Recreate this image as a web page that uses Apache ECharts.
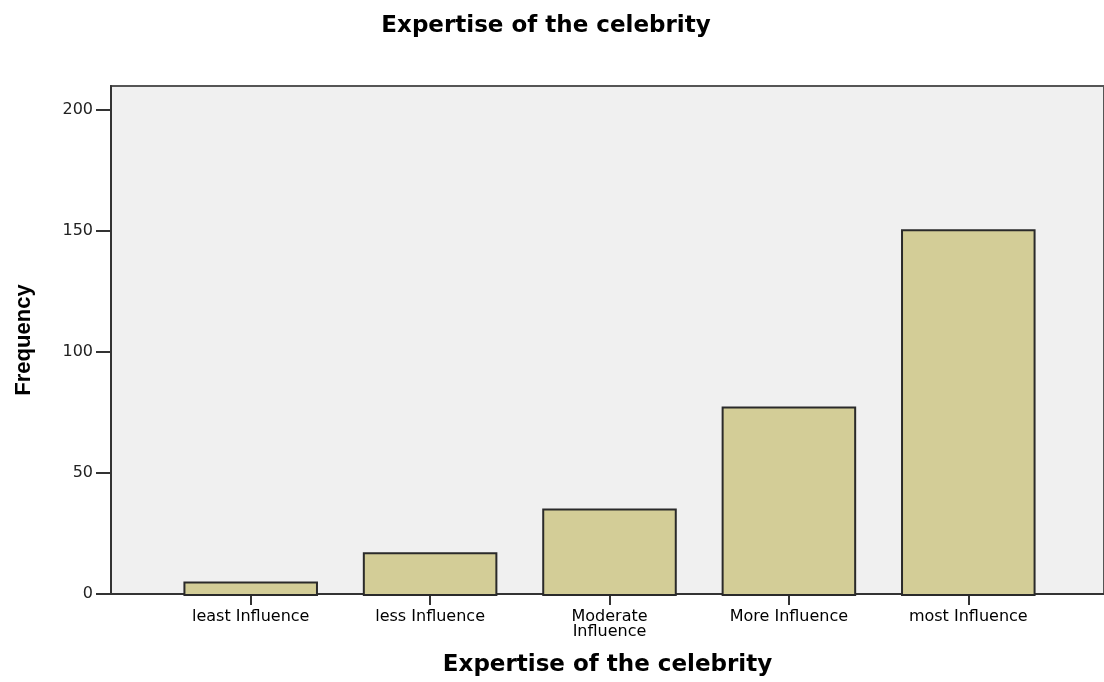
<!DOCTYPE html>
<html>
<head>
<meta charset="utf-8">
<script src="https://cdn.jsdelivr.net/npm/echarts@6/dist/echarts.min.js"></script>
<style>
html,body{margin:0;padding:0;background:#fff;}
#chart{width:1104px;height:682px;}
</style>
</head>
<body>
<div id="chart"></div>
<script>
const chartTitle = "Expertise of the celebrity";
const xAxisTitle = "Expertise of the celebrity";
const yAxisTitle = "Frequency";
const categories = ["least Influence", "less Influence", "Moderate\nInfluence", "More Influence", "most Influence"];
const frequencies = [6, 18, 36, 78, 151];
const yTicks = [0, 50, 100, 150, 200];

const chart = echarts.init(document.getElementById('chart'), null, {renderer: 'canvas'});
const labelFont = 'DejaVu Sans';
const yMax = 210;

chart.setOption({
  backgroundColor: '#ffffff',
  animation: false,
  title: {
    text: chartTitle,
    left: 541,
    top: 10,
    textAlign: 'center',
    textStyle: {fontFamily: labelFont, fontWeight: 'bold', fontSize: 23, color: '#000'}
  },
  grid: [
    {left: 111, top: 86, right: -4, bottom: 86, show: true, backgroundColor: '#f0f0f0', borderColor: '#555', borderWidth: 2, containLabel: false},
    {left: 161, top: 86, right: 46, bottom: 86, show: false, containLabel: false}
  ],
  xAxis: [
    {
      gridIndex: 0, type: 'value', min: 0, max: 1,
      axisLine: {show: true, onZero: false, lineStyle: {color: '#333', width: 2}},
      axisTick: {show: false}, axisLabel: {show: false}, splitLine: {show: false},
      name: xAxisTitle, nameLocation: 'middle', nameGap: 60,
      nameTextStyle: {fontFamily: labelFont, fontWeight: 'bold', fontSize: 23, color: '#000'}
    },
    {
      gridIndex: 1, type: 'category', data: categories, boundaryGap: true,
      axisLine: {show: false},
      axisTick: {show: true, alignWithLabel: true, length: 9, lineStyle: {color: '#333', width: 2}},
      axisLabel: {fontFamily: labelFont, fontSize: 16, color: '#000', margin: 13, lineHeight: 15, interval: 0}
    }
  ],
  yAxis: [
    {
      gridIndex: 0, type: 'value', min: 0, max: yMax,
      axisLine: {show: true, lineStyle: {color: '#333', width: 2}},
      axisTick: {show: true, length: 15, customValues: yTicks, lineStyle: {color: '#333', width: 2}},
      axisLabel: {fontFamily: labelFont, fontSize: 16, color: '#222', margin: 18, customValues: yTicks},
      splitLine: {show: false},
      name: yAxisTitle, nameLocation: 'middle', nameGap: 76, nameRotate: 90,
      nameTextStyle: {fontFamily: 'Liberation Sans', fontWeight: 'bold', fontSize: 22, color: '#000'}
    },
    {
      gridIndex: 1, type: 'value', min: 0, max: yMax, show: false
    }
  ],
  series: [
    {
      type: 'bar', xAxisIndex: 1, yAxisIndex: 1,
      data: frequencies, barWidth: '75%',
      itemStyle: {color: '#d3cd97', borderColor: '#2a2a2a', borderWidth: 2}
    }
  ]
});
</script>
</body>
</html>
